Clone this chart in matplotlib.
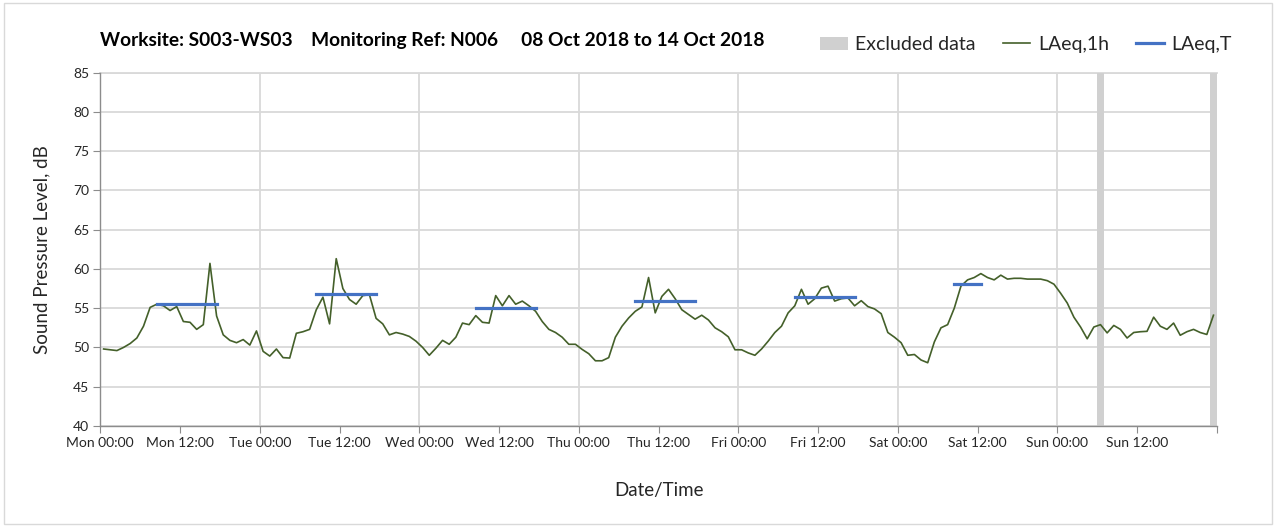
import numpy as np
import matplotlib
matplotlib.use("Agg")
import matplotlib.pyplot as plt
from matplotlib.patches import Rectangle, Patch
from matplotlib.lines import Line2D

plt.rcParams['font.family'] = ['Lato', 'DejaVu Sans']

# hourly LAeq,1h values, Mon 00:00 .. Sun 23:00 (plotted at mid-hour)
laeq_1h = [
    49.8, 49.7, 49.6, 50.0, 50.5, 51.2, 52.7, 55.1, 55.5, 55.3, 54.7, 55.2,
    53.3, 53.2, 52.3, 52.9, 60.7, 54.0, 51.6, 50.9, 50.6, 51.0, 50.3, 52.1,
    49.5, 48.9, 49.8, 48.7, 48.65, 51.8, 52.0, 52.3, 54.8, 56.4, 53.0, 61.3,
    57.5, 56.1, 55.5, 56.6, 56.7, 53.7, 53.0, 51.6, 51.9, 51.7, 51.4, 50.8,
    50.0, 49.0, 49.9, 50.9, 50.4, 51.3, 53.1, 52.9, 54.05, 53.2, 53.1, 56.6,
    55.3, 56.6, 55.5, 55.9, 55.3, 54.6, 53.3, 52.3, 51.9, 51.3, 50.4, 50.4,
    49.75, 49.2, 48.3, 48.3, 48.7, 51.3, 52.7, 53.75, 54.6, 55.15, 58.9, 54.4,
    56.5, 57.4, 56.2, 54.8, 54.2, 53.6, 54.1, 53.5, 52.5, 52.0, 51.35, 49.7,
    49.7, 49.3, 49.0, 49.8, 50.8, 51.9, 52.7, 54.4, 55.3, 57.4, 55.5, 56.2,
    57.55, 57.8, 55.9, 56.2, 56.3, 55.3, 55.95, 55.2, 54.9, 54.3, 51.9, 51.3,
    50.6, 49.0, 49.1, 48.4, 48.05, 50.7, 52.5, 52.9, 55.0, 57.8, 58.6, 58.9,
    59.4, 58.9, 58.6, 59.2, 58.7, 58.8, 58.8, 58.7, 58.7, 58.7, 58.5, 58.05,
    56.9, 55.65, 53.85, 52.6, 51.1, 52.6, 52.9, 51.85, 52.8, 52.3, 51.2, 51.9,
    52.0, 52.05, 53.85, 52.7, 52.3, 53.1, 51.55, 52.0, 52.3, 51.9, 51.65, 54.1,
]

# LAeq,T daytime periods (start hour, end hour, level)
laeqt_start = [8, 32, 56, 80, 104, 128]
laeqt_end = [18, 42, 66, 90, 114, 133]
laeqt_val = [55.5, 56.75, 55.0, 55.85, 56.4, 58.1]

# excluded hours
excl_start = [150, 167]
excl_end = [151, 168]

tick_labels = ["Mon 00:00", "Mon 12:00", "Tue 00:00", "Tue 12:00", "Wed 00:00",
               "Wed 12:00", "Thu 00:00", "Thu 12:00", "Fri 00:00", "Fri 12:00",
               "Sat 00:00", "Sat 12:00", "Sun 00:00", "Sun 12:00", ""]

green = "#44602a"
blue = "#4472c4"
grey = "#d0d0d0"
gridc = "#d9d9d9"
axc = "#8c8c8c"
txtc = "#262626"

hours = np.arange(len(laeq_1h)) + 0.5

fig = plt.figure(figsize=(12.76, 5.27), dpi=100)
fig.patches.append(Rectangle((0.003, 0.006), 0.994, 0.988, transform=fig.transFigure,
                             fill=False, edgecolor=gridc, linewidth=1.0))
ax = fig.add_axes([0.0786, 0.1917, 0.875, 0.6707])

for s, e in zip(excl_start, excl_end):
    ax.axvspan(s, e, color=grey, lw=0, zorder=1)

ax.plot(hours, laeq_1h, color=green, lw=1.2, zorder=3)
for s, e, v in zip(laeqt_start, laeqt_end, laeqt_val):
    ax.plot([s + 0.5, e - 0.5], [v, v], color=blue, lw=2.3,
            solid_capstyle='projecting', zorder=4)

ax.set_xlim(0, 168)
ax.set_ylim(40, 85)
ax.set_yticks(np.arange(40, 86, 5))
ax.set_xticks(np.arange(0, 169, 12))
ax.set_xticklabels(tick_labels)
ax.yaxis.grid(True, color=gridc, lw=1.3, zorder=0)
for d in range(24, 168, 24):
    ax.axvline(d, color=gridc, lw=1.3, zorder=0)
ax.set_axisbelow(True)

for side in ["top", "right"]:
    ax.spines[side].set_visible(False)
ax.axhline(85, color=gridc, lw=1.3, zorder=0, clip_on=False)
for side in ["left", "bottom"]:
    ax.spines[side].set_color(axc)
    ax.spines[side].set_linewidth(1.0)
ax.tick_params(axis='both', direction='out', length=5, color=axc,
               labelsize=10, labelcolor=txtc, pad=3)

ax.set_ylabel("Sound Pressure Level, dB", fontsize=13.5, color=txtc, labelpad=16)
ax.set_xlabel("Date/Time", fontsize=13.5, color=txtc, labelpad=24)

fig.text(0.0786, 0.924, "Worksite: S003-WS03    Monitoring Ref: N006     08 Oct 2018 to 14 Oct 2018",
         fontsize=13.8, fontweight='bold', color='black', va='center', ha='left')

handles = [Patch(facecolor=grey, edgecolor='none'),
           Line2D([], [], color=green, lw=1.2),
           Line2D([], [], color=blue, lw=2.3)]
fig.legend(handles, ["Excluded data", "LAeq,1h", "LAeq,T"], ncol=3,
           loc='center right', bbox_to_anchor=(0.979, 0.915), frameon=False,
           fontsize=14, labelcolor=txtc, handlelength=1.4, handletextpad=0.4,
           columnspacing=1.4)

fig.savefig("out.png", dpi=100)
